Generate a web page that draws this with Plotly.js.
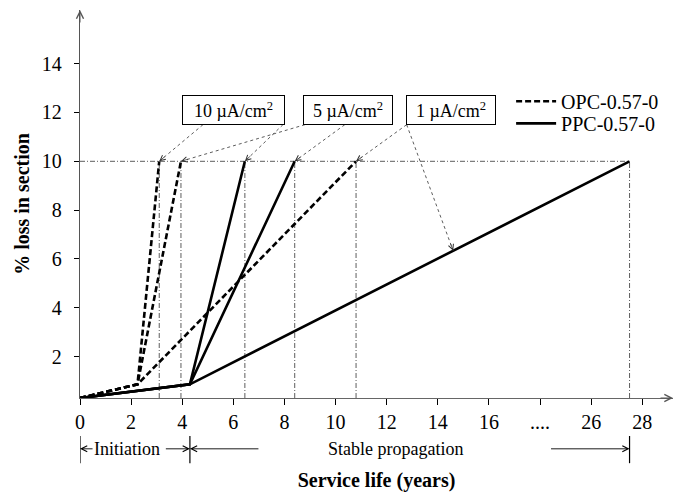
<!DOCTYPE html>
<html>
<head>
<meta charset="utf-8">
<script src="https://cdn.plot.ly/plotly-3.0.1.min.js"></script>
<style>html,body{margin:0;padding:0;background:#fff;}#chart{width:683px;height:492px;}</style>
</head>
<body>
<div id="chart"></div>
<script>
// ---- data (years, % loss in section) ----
const rateLabels = ['10 µA/cm<sup>2</sup>', '5 µA/cm<sup>2</sup>', '1 µA/cm<sup>2</sup>'];
const startYear = 0;
const startLoss = 0.3;
const initLoss = 0.86;
const opcInitYear = 2.25;
const ppcInitYear = 4.3;
const opcEndYears = [3.1, 3.95, 10.8];
const ppcEndYears = [6.45, 8.4, 27.5];
const endLoss = 10;
const xTickYears = [0, 2, 4, 6, 8, 10, 12, 14, 16, 24, 26, 28];
const xTickLabels = ['0', '2', '4', '6', '8', '10', '12', '14', '16', '....', '26', '28'];
const yTickVals = [2, 4, 6, 8, 10, 12, 14];
const yTickLabels = ['2', '4', '6', '8', '10', '12', '14'];
const arrowTargetYearPPC1 = 20.6; // point on the PPC 1 µA line that its label points to

// broken x axis: years beyond 16 are shifted (16 ... 26)
function brk(y) { return y <= 16 ? y : y - 6; }

const FONT = 'Liberation Serif';
const W = 683, H = 492, ML = 80, MR = 10, MT = 10, MB = 94;
const XR = [0, 23.2], YR = [0.3, 16.2];
const kx = (W - ML - MR) / (XR[1] - XR[0]);
const ky = (H - MT - MB) / (YR[1] - YR[0]);

const traces = [];
// reference dash-dot lines
const refX = [0, brk(ppcEndYears[2]), null];
const refY = [endLoss, endLoss, null];
opcEndYears.concat(ppcEndYears).forEach(e => { refX.push(brk(e), brk(e), null); refY.push(startLoss, endLoss, null); });
traces.push({x: refX, y: refY, mode: 'lines', showlegend: false, hoverinfo: 'skip',
  line: {color: '#333', width: 0.8, dash: '5px,2px,1px,2px'}});

function series(initYear, endYears, name, dash, legendId) {
  endYears.forEach((e, i) => {
    traces.push({
      x: [brk(startYear), brk(initYear), brk(e)],
      y: [startLoss, initLoss, endLoss],
      mode: 'lines', name: name, legendgroup: name, showlegend: i === 0, legend: legendId,
      line: {color: '#000', width: 2.6, dash: dash}
    });
  });
}
series(opcInitYear, opcEndYears, 'OPC-0.57-0', '6px,3px', 'legend');
series(ppcInitYear, ppcEndYears, 'PPC-0.57-0', 'solid', 'legend2');

// label boxes and their pointer lines
const boxX = [6.0, 10.5, 14.5];
const boxY = 12.1;
const boxBottom = 11.5;
function lineY(x0, y0, x1, y1, x) { return y0 + (y1 - y0) * (x - x0) / (x1 - x0); }
const ppc1TX = brk(arrowTargetYearPPC1);
const ppc1TY = lineY(brk(ppcInitYear), initLoss, brk(ppcEndYears[2]), endLoss, ppc1TX);
const pointers = [
  {sx: 4.81, tx: brk(opcEndYears[0]), ty: endLoss},
  {sx: 7.94, tx: brk(ppcEndYears[0]), ty: endLoss},
  {sx: 8.8, tx: brk(opcEndYears[1]), ty: endLoss},
  {sx: 10.36, tx: brk(ppcEndYears[1]), ty: endLoss},
  {sx: 12.78, tx: brk(opcEndYears[2]), ty: endLoss},
  {sx: 12.78, tx: ppc1TX, ty: ppc1TY}
];

const shapes = [];
const annotations = [];
pointers.forEach(p => {
  shapes.push({type: 'line', xref: 'x', yref: 'y', x0: p.sx, y0: boxBottom, x1: p.tx, y1: p.ty,
    line: {color: '#333', width: 0.8, dash: 'dot'}});
  const dx = (p.sx - p.tx) * kx, dy = -(boxBottom - p.ty) * ky;
  const L = Math.hypot(dx, dy);
  annotations.push({x: p.tx, y: p.ty, xref: 'x', yref: 'y', text: '', showarrow: true,
    ax: dx / L * 9, ay: dy / L * 9, arrowhead: 5, arrowsize: 1.3, arrowwidth: 0.8, arrowcolor: '#333'});
});
rateLabels.forEach((t, i) => {
  annotations.push({x: boxX[i], y: boxY, xref: 'x', yref: 'y', text: t, showarrow: false,
    font: {family: FONT, size: 18, color: '#000'}, bordercolor: '#000', borderwidth: 1, borderpad: 1,
    bgcolor: '#fff', width: i === 0 ? 99 : 86, height: 26});
});

// axis arrows
annotations.push({xref: 'paper', yref: 'paper', x: 1, y: 0, ax: -14, ay: 0, text: '', showarrow: true,
  arrowhead: 5, arrowsize: 1.4, arrowwidth: 1, arrowcolor: '#555'});
annotations.push({xref: 'paper', yref: 'paper', x: 0, y: 1, ax: 0, ay: 14, text: '', showarrow: true,
  arrowhead: 5, arrowsize: 1.4, arrowwidth: 1, arrowcolor: '#555'});

// phase annotations below the axis
const phaseY = -0.131;
const phaseBars = [0, brk(ppcInitYear), brk(ppcEndYears[2])];
phaseBars.forEach(b => shapes.push({type: 'line', xref: 'x', yref: 'paper', x0: b, x1: b, y0: -0.098, y1: -0.168,
  line: {color: '#000', width: 1.2}}));
function hArrow(head, tail) {
  annotations.push({xref: 'x', yref: 'paper', x: head, y: phaseY, axref: 'x', ayref: 'pixel', ax: tail, ay: 0,
    text: '', showarrow: true, arrowhead: 5, arrowsize: 1.3, arrowwidth: 0.9, arrowcolor: '#000'});
}
hArrow(0, 0.55);
hArrow(brk(ppcInitYear), 3.3);
hArrow(brk(ppcInitYear), 7.04);
hArrow(brk(ppcEndYears[2]), 18.37);
annotations.push({xref: 'x', yref: 'paper', x: 1.85, y: phaseY, yanchor: 'middle', text: 'Initiation', showarrow: false,
  font: {family: FONT, size: 18, color: '#000'}});
annotations.push({xref: 'x', yref: 'paper', x: 12.35, y: phaseY, yanchor: 'middle', text: 'Stable propagation', showarrow: false,
  font: {family: FONT, size: 18, color: '#000'}});

const legendFont = {family: FONT, size: 20, color: '#000'};
const layout = {
  width: W, height: H,
  font: {family: FONT, size: 20, color: '#000'},
  margin: {l: ML, r: MR, t: MT, b: MB},
  paper_bgcolor: '#fff', plot_bgcolor: '#fff',
  showlegend: true,
  legend: {x: 0.727, y: 0.815, xanchor: 'left', yanchor: 'top', bgcolor: 'rgba(0,0,0,0)',
    font: legendFont, itemwidth: 40, tracegroupgap: 0},
  legend2: {x: 0.727, y: 0.758, xanchor: 'left', yanchor: 'top', bgcolor: 'rgba(0,0,0,0)',
    font: legendFont, itemwidth: 40, tracegroupgap: 0},
  xaxis: {
    range: XR, showgrid: false, zeroline: false, showline: true, linecolor: '#666', linewidth: 1.4,
    ticks: 'outside', ticklen: 6, tickcolor: '#000', tickwidth: 1,
    tickmode: 'array', tickvals: xTickYears.map(brk), ticktext: xTickLabels,
    tickfont: {family: FONT, size: 20, color: '#000'},
    title: {text: '<b>Service life (years)</b>', font: {family: FONT, size: 20, color: '#000'}, standoff: 40}
  },
  yaxis: {
    range: YR, showgrid: false, zeroline: false, showline: true, linecolor: '#555', linewidth: 1.2,
    ticks: 'outside', ticklen: 5, tickcolor: '#000', tickwidth: 1, ticklabelstandoff: 8,
    tickmode: 'array', tickvals: yTickVals, ticktext: yTickLabels,
    tickfont: {family: FONT, size: 20, color: '#000'},
    title: {text: '<b>% loss in section</b>', font: {family: FONT, size: 20, color: '#000'}, standoff: 6}
  },
  shapes: shapes,
  annotations: annotations
};

Plotly.newPlot('chart', traces, layout, {displayModeBar: false, staticPlot: true});
</script>
</body>
</html>
